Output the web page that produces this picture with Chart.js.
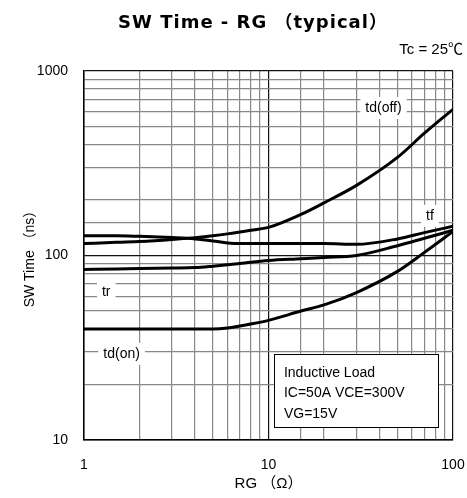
<!DOCTYPE html>
<html>
<head>
<meta charset="utf-8">
<script src="https://cdn.jsdelivr.net/npm/chart.js@4.4.1/dist/chart.umd.min.js"></script>
<style>
  html, body { margin: 0; padding: 0; background: #fff; }
  #wrap { width: 467px; height: 498px; position: relative; }
</style>
</head>
<body>
<div id="wrap"><canvas id="myChart" width="467" height="498"></canvas></div>
<script>
// RG values (ohm) used by every curve
const rg = [1, 1.5, 2, 3, 4, 5, 6, 7, 8, 10, 15, 20, 30, 50, 70, 100];
// switching times in ns
const tdOff = [116, 118, 119, 122, 125, 128, 131, 134, 137, 142, 167, 193, 240, 340, 460, 620];
const tf    = [128, 128, 127, 125, 123, 120, 117, 116, 116, 116, 116, 116, 115, 123, 133, 144];
const tr    = [84, 84.5, 85, 85.5, 86, 87.5, 89, 90.5, 92, 94, 96, 97.5, 100, 113, 124, 137];
const tdOn  = [40, 40, 40, 40, 40, 40, 40.5, 41.5, 42.5, 44.5, 50, 54, 63, 82, 104, 135];

const xTicks = [1, 10, 100];
const yTicks = [10, 100, 1000];

// curve names and where they sit (data units)
const curveNames = ['td(off)', 'tf', 'tr', 'td(on)'];
const nameX = [42, 75, 1.32, 1.6];
const nameY = [630, 164, 63.4, 29.3];

const noteLines = ['Inductive Load', 'IC=50A VCE=300V', 'VG=15V'];

const FONT = "'Liberation Sans', Arial, 'Noto Sans CJK JP', sans-serif";

function pts(ys) {
    return rg.map((x, i) => ({ x: x, y: ys[i] }));
}

function isDecade(v) {
    const l = Math.log10(v);
    return Math.abs(l - Math.round(l)) < 1e-9;
}

function ds(label, ys) {
    return {
        label: label,
        data: pts(ys),
        borderColor: '#000',
        borderWidth: 3,
        pointRadius: 0,
        fill: false,
        cubicInterpolationMode: 'monotone'
    };
}

const textPlugin = {
    id: 'texts',
    afterDatasetsDraw(chart) {
        const c = chart.ctx;
        const xs = chart.scales.x, ys = chart.scales.y;
        const area = chart.chartArea;
        c.save();

        // curve names on white patches
        c.font = '14px ' + FONT;
        c.textAlign = 'center';
        c.textBaseline = 'middle';
        curveNames.forEach((n, i) => {
            const px = xs.getPixelForValue(nameX[i]);
            const py = ys.getPixelForValue(nameY[i]);
            const w = c.measureText(n).width;
            c.fillStyle = '#fff';
            c.fillRect(px - w / 2 - 5, py - 11, w + 10, 22);
            c.fillStyle = '#000';
            c.fillText(n, px, py);
        });

        // conditions box
        const bx = xs.getPixelForValue(10.7), by = ys.getPixelForValue(29.3);
        const bx2 = xs.getPixelForValue(83), by2 = ys.getPixelForValue(11.75);
        c.fillStyle = '#fff';
        c.fillRect(bx, by, bx2 - bx, by2 - by);
        c.strokeStyle = '#000';
        c.lineWidth = 1;
        c.strokeRect(Math.round(bx) + 0.5, Math.round(by) + 0.5, Math.round(bx2 - bx), Math.round(by2 - by));
        c.fillStyle = '#000';
        c.font = '14px ' + FONT;
        c.textAlign = 'left';
        noteLines.forEach((t, i) => c.fillText(t, bx + 10, by + 19 + i * 20.5));

        // titles
        c.textAlign = 'center';
        c.font = "bold 18px 'DejaVu Sans', 'Noto Sans CJK JP', sans-serif";
        c.letterSpacing = '1px';
        c.fillText('SW Time - RG （typical）', 253, 23);
        c.letterSpacing = '0px';
        c.font = '15px ' + FONT;
        c.textAlign = 'right';
        c.fillText('Tc = 25℃', 463, 50);
        c.textAlign = 'center';
        c.fillText('RG （Ω）', (area.left + area.right) / 2, 484);
        c.translate(30, (area.top + area.bottom) / 2);
        c.rotate(-Math.PI / 2);
        c.font = '14px ' + FONT;
        c.fillText('SW Time （ns）', 0, 0);
        c.restore();
    }
};

const gridColor = c => (c.tick && isDecade(c.tick.value)) ? '#111' : '#888';

const ctx = document.getElementById('myChart').getContext('2d');
const myChart = new Chart(ctx, {
    type: 'line',
    data: {
        datasets: [ds('td(off)', tdOff), ds('tf', tf), ds('tr', tr), ds('td(on)', tdOn)]
    },
    options: {
        responsive: false,
        animation: false,
        layout: { padding: { top: 71, right: 14, left: 0, bottom: 0 } },
        plugins: {
            legend: { display: false },
            title: { display: false },
            tooltip: { enabled: false }
        },
        scales: {
            x: {
                type: 'logarithmic',
                min: 1,
                max: 100,
                afterFit: s => { s.height = 58; s.paddingLeft = 0; s.paddingRight = 0; },
                border: { color: '#000', width: 1.5 },
                grid: { drawTicks: false, color: gridColor, lineWidth: 1.2 },
                ticks: {
                    autoSkip: false,
                    maxRotation: 0,
                    padding: 17,
                    color: '#000',
                    font: { family: FONT, size: 14 },
                    callback: v => xTicks.includes(v) ? String(v) : ''
                }
            },
            y: {
                type: 'logarithmic',
                min: 10,
                max: 1000,
                afterFit: s => { s.width = 84; s.paddingTop = 0; s.paddingBottom = 0; },
                border: { color: '#000', width: 1.5 },
                grid: { drawTicks: false, color: gridColor, lineWidth: 1.2 },
                ticks: {
                    autoSkip: false,
                    padding: 16,
                    color: '#000',
                    font: { family: FONT, size: 14 },
                    callback: v => yTicks.includes(v) ? String(v) : ''
                }
            }
        }
    },
    plugins: [textPlugin]
});
</script>
</body>
</html>
